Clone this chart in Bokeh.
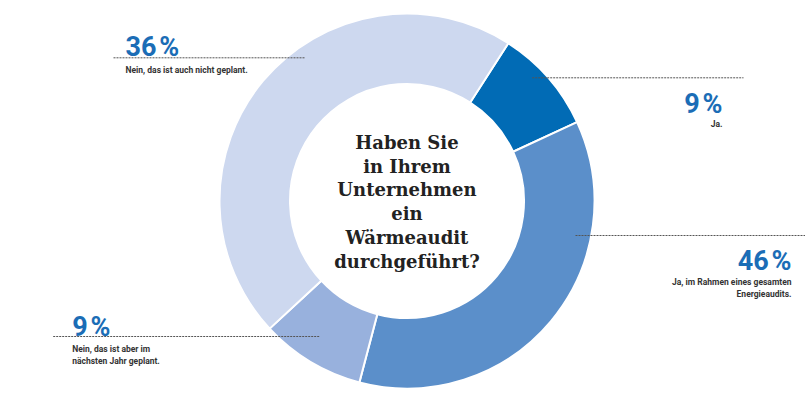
import math
from bokeh.plotting import figure
from bokeh.models import Range1d, ColumnDataSource
from bokeh.core.properties import value
from bokeh.embed import file_html
from bokeh.resources import INLINE

# ---- data ----
categories = ["Ja.", "Ja, im Rahmen eines gesamten\nEnergieaudits.",
              "Nein, das ist aber im\nnächsten Jahr geplant.", "Nein, das ist auch nicht geplant."]
label_pct = [9, 46, 9, 36]          # values printed in the callouts
slice_share = [9, 36, 9, 46]        # arc sizes as drawn in the picture
slice_colors = ["#016bb5", "#5b8fca", "#98b1dd", "#cdd8ef"]
question = "Haben Sie\nin Ihrem\nUnternehmen\nein\nWärmeaudit\ndurchgeführt?"

# ---- layout ----
W, H = 805, 420
cx, cy = 406.5, H - 200.5
r_out, r_in = 187.5, 117
start_deg = 32.7  # clockwise from 12 o'clock

p = figure(width=W, height=H, output_backend="svg", toolbar_location=None,
           x_range=Range1d(0, W), y_range=Range1d(0, H), min_border=0)
p.axis.visible = False
p.grid.visible = False
p.outline_line_color = None
p.background_fill_color = "white"
p.border_fill_color = "white"

total = sum(slice_share)
starts, ends = [], []
acc = start_deg
for s in slice_share:
    a0 = acc
    a1 = acc + s / total * 360.0
    starts.append(math.radians(90 - a0))
    ends.append(math.radians(90 - a1))
    acc = a1

src = ColumnDataSource(dict(start=starts, end=ends, color=slice_colors))
p.annular_wedge(x=cx, y=cy, inner_radius=r_in, outer_radius=r_out,
                start_angle="start", end_angle="end", direction="clock",
                fill_color="color", line_color="white", line_width=2, source=src)

# callout layout: (line x0, line x1, line y, text x, align, pct baseline, caption baselines)
callouts = [
    (531.7, 743, 77.3, 722, "right", 103.3, [123.5]),
    (575, 805, 235, 791, "right", 260, [281, 293]),
    (52.7, 319, 336, 71.7, "left", 326.7, [348, 360]),
    (113, 305, 57.3, 125, "left", 46.7, [69.7]),
]

blue = "#1b6db6"
for (x0, x1, ly, tx, align, pb, cbs), pct, cat in zip(callouts, label_pct, categories):
    p.line([x0, x1], [H - ly, H - ly], line_color="#555555", line_width=1, line_dash="2 1")
    p.text(x=[tx], y=[H - pb], text=[f"{pct}\u200a%"], text_font=value("Roboto"),
           text_font_style="bold", text_font_size="27px", text_color=blue,
           text_align=align, text_baseline="alphabetic")
    for line_txt, b in zip(cat.split("\n"), cbs):
        p.text(x=[tx], y=[H - b], text=[line_txt], text_font=value("Roboto"),
               text_font_style="bold", text_font_size="8.5px", text_color="#333333",
               text_align=align, text_baseline="alphabetic")

p.text(x=[cx], y=[H - 201.3], text=[question], text_font=value("DejaVu Serif"),
       text_font_style="bold", text_font_size="18px", text_color="#222222",
       text_align="center", text_baseline="middle", text_line_height=1.13)

open("out.html", "w").write(file_html(p, INLINE))
